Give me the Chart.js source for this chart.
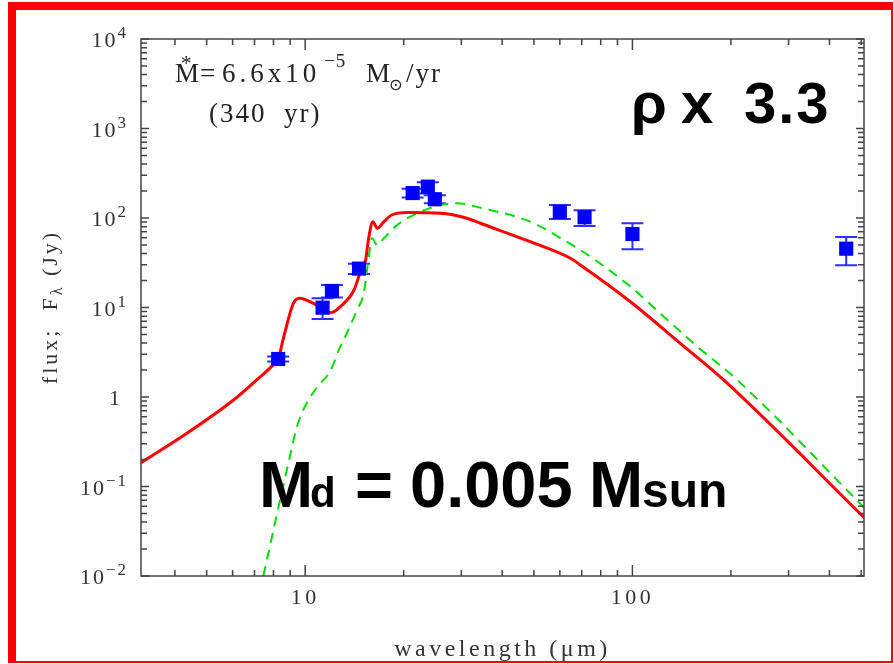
<!DOCTYPE html>
<html>
<head>
<meta charset="utf-8">
<script src="https://cdn.jsdelivr.net/npm/chart.js@4.4.1/dist/chart.umd.min.js"></script>
<style>
html,body{margin:0;padding:0;background:#fff;}
#wrap{position:relative;width:894px;height:664px;overflow:hidden;background:#fff;}
#sed{position:absolute;left:0;top:0;}
#frame{position:absolute;left:8px;top:2px;width:885px;height:661px;box-sizing:border-box;
  border-style:solid;border-color:#ff0000;border-width:8px 2px 2px 8px;pointer-events:none;}
</style>
</head>
<body>
<div id="wrap">
  <canvas id="sed" width="894" height="664"></canvas>
  <div id="frame"></div>
</div>
<script>
// model SED, full disk + envelope (red)
const redWave = [3.15, 4.35, 6.04, 7.11, 7.9, 8.27, 8.6, 9.2, 9.6, 10.7, 11.3, 12.0, 12.8, 14.1, 14.7, 15.3, 15.6, 16.1, 16.6, 17.4, 18.4, 20.5, 25.9, 31.2, 34.3, 48.7, 64.6, 69.3, 98.6, 140, 190, 513];
const redFlux = [0.184, 0.393, 0.925, 1.55, 2.2, 2.66, 4.7, 11.1, 12.7, 10.9, 9.7, 8.74, 10.2, 15.7, 24.1, 34, 56.8, 91, 76.8, 91, 108, 115, 113, 99.4, 87.3, 54.4, 35.5, 29.9, 11.6, 3.98, 1.55, 0.0442];

// second model (green dashed)
const greenWave = [7.45, 9.0, 9.44, 10.1, 10.9, 11.9, 12.8, 13.4, 14.4, 15.1, 15.6, 16.0, 16.6, 17.4, 19.1, 22.0, 25.9, 29.1, 34.3, 48.7, 61.7, 74.4, 98.6, 128, 158, 209, 513];
const greenFlux = [0.01, 0.225, 0.466, 0.851, 1.30, 1.92, 3.65, 5.15, 9.38, 14.4, 34, 59.3, 49.9, 59.3, 83.6, 113, 140, 146, 130, 91, 56.8, 37, 17.1, 7.24, 3.65, 1.55, 0.057];

// photometry with error bars
const obsWave = [8.27, 11.3, 12.07, 14.6, 21.3, 23.7, 24.9, 60, 71.4, 100, 450];
const obsFlux = [2.66, 9.95, 15.3, 27.2, 190, 224, 162, 117, 102, 66.2, 45.4];
const obsLo   = [2.5, 7.45, 12.9, 23.7, 169, 188, 146, 97.5, 81.5, 44.8, 29.6];
const obsHi   = [2.83, 12.7, 17.8, 30.8, 212, 251, 180, 140, 122, 87.3, 61.4];

const xLabelTicks = [10, 100];
const yDecades = [-2, -1, 0, 1, 2, 3, 4];

const serif = '"Liberation Serif", "DejaVu Serif", serif';
const sans = '"Liberation Sans", Arial, sans-serif';
const axisGrey = "#444";

function drawLogTicks(ctx, scale, horizontal, area){
    const lo = Math.floor(Math.log10(scale.min));
    const hi = Math.ceil(Math.log10(scale.max));
    for(let e = lo; e <= hi; e++){
        for(let m = 1; m < 10; m++){
            const v = m * Math.pow(10, e);
            if(v < scale.min * 0.999 || v > scale.max * 1.001) continue;
            const p = scale.getPixelForValue(v);
            ctx.beginPath();
            if(horizontal){
                const len = m === 1 ? 11 : 6;
                ctx.moveTo(p, area.bottom); ctx.lineTo(p, area.bottom - len);
                ctx.moveTo(p, area.top); ctx.lineTo(p, area.top + len);
            }else{
                const len = m === 1 ? 8 : 6;
                ctx.moveTo(area.left, p); ctx.lineTo(area.left + len, p);
                ctx.moveTo(area.right, p); ctx.lineTo(area.right - len, p);
            }
            ctx.stroke();
        }
    }
}

function drawParts(ctx, parts, x, y){
    parts.forEach(([text, font, dy]) => {
        ctx.font = font;
        ctx.fillText(text, x, y + dy);
        x += ctx.measureText(text).width;
    });
    return x;
}

const sedDecor = {
    id: "sedDecor",
    beforeDraw(chart){
        chart.ctx.letterSpacing = "3.5px";
    },
    beforeDatasetsDraw(chart){
        const {ctx, scales:{x: xs, y: ys}} = chart;
        ctx.save();
        ctx.strokeStyle = "#2e2eff";
        ctx.lineWidth = 2;
        obsWave.forEach((w, i) => {
            const px = xs.getPixelForValue(w);
            const top = ys.getPixelForValue(obsHi[i]);
            const bot = ys.getPixelForValue(obsLo[i]);
            ctx.beginPath();
            ctx.moveTo(px, top); ctx.lineTo(px, bot);
            ctx.moveTo(px - 11, top); ctx.lineTo(px + 11, top);
            ctx.moveTo(px - 11, bot); ctx.lineTo(px + 11, bot);
            ctx.stroke();
        });
        ctx.restore();
    },
    afterDraw(chart){
        const {ctx, chartArea: area, scales:{x: xs, y: ys}} = chart;
        ctx.save();

        // plot box and inward ticks
        ctx.strokeStyle = axisGrey;
        ctx.lineWidth = 1.5;
        ctx.strokeRect(area.left, area.top, area.right - area.left, area.bottom - area.top);
        drawLogTicks(ctx, xs, true, area);
        drawLogTicks(ctx, ys, false, area);

        // y tick labels with exponents
        ctx.fillStyle = "#333";
        ctx.textBaseline = "alphabetic";
        ctx.letterSpacing = "2px";
        yDecades.forEach(e => {
            const py = ys.getPixelForValue(Math.pow(10, e));
            ctx.textAlign = "right";
            if(e === 0){
                ctx.font = `22px ${serif}`;
                ctx.fillText("1", 122, py + 8);
                return;
            }
            const expText = e < 0 ? "\u2212" + (-e) : String(e);
            ctx.font = `17px ${serif}`;
            const ew = ctx.measureText(expText).width;
            ctx.fillText(expText, 128, py - 1);
            ctx.font = `22px ${serif}`;
            ctx.fillText("10", 128 - ew, py + 8);
        });

        // y axis title
        ctx.save();
        ctx.translate(57, 307);
        ctx.rotate(-Math.PI / 2);
        ctx.letterSpacing = "3px";
        ctx.textAlign = "left";
        const titleParts = [["flux;  F", `22px ${serif}`, 0], ["\u03bb", `16px ${serif}`, 5], [" (Jy)", `22px ${serif}`, 0]];
        let tw = 0;
        titleParts.forEach(([t, f]) => { ctx.font = f; tw += ctx.measureText(t).width; });
        drawParts(ctx, titleParts, -tw / 2, 0);
        ctx.restore();

        // accretion-rate annotation
        ctx.fillStyle = "#222";
        ctx.textAlign = "left";
        ctx.letterSpacing = "0px";
        ctx.font = `27px ${serif}`;
        ctx.fillText("M", 175, 82);
        ctx.font = `21px ${serif}`;
        ctx.fillText("*", 181, 70);
        ctx.font = `27px ${serif}`;
        ctx.fillText("=", 200, 82);
        ctx.letterSpacing = "4px";
        ctx.fillText("6.6x10", 222, 82);
        ctx.font = `19px ${serif}`;
        ctx.letterSpacing = "1px";
        ctx.fillText("\u22125", 324, 67);
        ctx.font = `27px ${serif}`;
        ctx.letterSpacing = "0px";
        ctx.fillText("M", 366, 82);
        ctx.font = `16px "DejaVu Sans", sans-serif`;
        ctx.fillText("\u2299", 389, 90);
        ctx.font = `27px ${serif}`;
        ctx.letterSpacing = "2px";
        ctx.fillText("/yr", 406, 82);
        ctx.fillText("(340  yr)", 209, 122);

        // big labels
        ctx.fillStyle = "#000";
        ctx.letterSpacing = "0px";
        ctx.font = `bold 58px ${sans}`;
        ctx.fillText("\u03c1", 631, 123);
        ctx.fillText("x", 681, 123);
        ctx.letterSpacing = "2px";
        ctx.fillText("3.3", 744, 123);
        ctx.letterSpacing = "0px";

        ctx.font = `bold 65px ${sans}`;
        ctx.fillText("M", 259, 507);
        ctx.font = `bold 42px ${sans}`;
        ctx.fillText("d", 310, 507);
        ctx.font = `bold 65px ${sans}`;
        ctx.fillText("=", 355, 507);
        ctx.fillText("0.005", 410, 507);
        ctx.fillText("M", 589, 507);
        ctx.font = `bold 48px ${sans}`;
        ctx.fillText("sun", 642, 507);

        ctx.restore();
    }
};

new Chart(document.getElementById("sed"), {
    type: "scatter",
    data: {
        datasets: [
            {
                label: "observed",
                data: obsWave.map((w, i) => ({x: w, y: obsFlux[i]})),
                pointStyle: "rect",
                pointRadius: 10,
                backgroundColor: "#0000ff",
                borderWidth: 0,
                showLine: false
            },
            {
                label: "model",
                type: "line",
                data: redWave.map((w, i) => ({x: w, y: redFlux[i]})),
                borderColor: "#ff0000",
                borderWidth: 3,
                pointRadius: 0,
                fill: false,
                cubicInterpolationMode: "monotone"
            },
            {
                label: "model 2",
                type: "line",
                data: greenWave.map((w, i) => ({x: w, y: greenFlux[i]})),
                borderColor: "#00e000",
                borderWidth: 2,
                borderDash: [10, 7],
                pointRadius: 0,
                fill: false,
                cubicInterpolationMode: "monotone"
            }
        ]
    },
    options: {
        responsive: false,
        animation: false,
        devicePixelRatio: 1,
        layout: {padding: {top: 39, right: 30, left: 0, bottom: 0}},
        plugins: {legend: {display: false}, tooltip: {enabled: false}},
        scales: {
            x: {
                type: "logarithmic",
                position: "bottom",
                min: 3.15,
                max: 510,
                afterBuildTicks: s => { s.ticks = xLabelTicks.map(v => ({value: v})); },
                afterFit: s => { s.height = 88; },
                grid: {display: false, drawTicks: false},
                border: {display: false},
                ticks: {
                    autoSkip: false,
                    maxRotation: 0,
                    padding: 9,
                    color: "#333",
                    font: {family: serif, size: 22},
                    callback: v => String(v)
                },
                title: {
                    display: true,
                    text: "wavelength (\u03bcm)",
                    color: "#333",
                    font: {family: serif, size: 24},
                    padding: {top: 0, bottom: 0}
                }
            },
            y: {
                type: "logarithmic",
                min: 0.01,
                max: 10000,
                afterFit: s => { s.width = 141; },
                grid: {display: false, drawTicks: false},
                border: {display: false},
                ticks: {display: false}
            }
        }
    },
    plugins: [sedDecor]
});
</script>
</body>
</html>
